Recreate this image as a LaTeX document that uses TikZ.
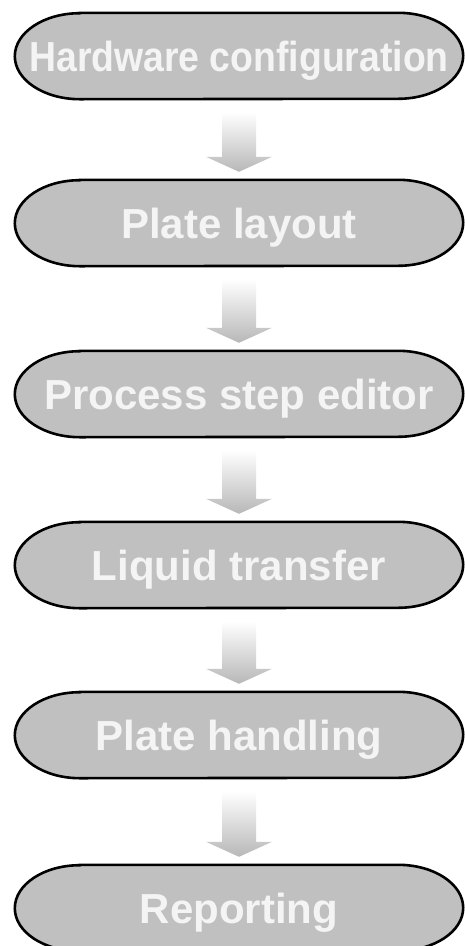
\documentclass[tikz,border=0pt]{standalone}
\usepackage{fontspec}
\setmainfont{Liberation Sans}
\usetikzlibrary{calc,backgrounds}
\definecolor{stagefill}{HTML}{C0C0C0}
\definecolor{stagetext}{HTML}{F4F4F4}
\newcommand\stageoutline[1]{%
  \draw[stageline] ([xshift=65pt]#1.north west) -- ([xshift=-65pt]#1.north east)
    arc[start angle=90,end angle=-90,x radius=65pt,y radius=43pt]
    -- ([xshift=65pt]#1.south west)
    arc[start angle=270,end angle=90,x radius=65pt,y radius=43pt] -- cycle;}
\newcommand\flowarrow[2]{%
  \shade[top color=white, bottom color=black!28]
    ($(#1.south)+(-17,13)$) -- ($(#1.south)+(17,13)$) -- ($(#2.north)+(17,-23)$)
    -- ($(#2.north)+(33,-23)$) -- ($(#2.north)+(0,-8)$) -- ($(#2.north)+(-33,-23)$)
    -- ($(#2.north)+(-17,-23)$) -- cycle;}
\begin{document}
\begin{tikzpicture}[x=1pt,y=-1pt,
  stage/.style={minimum width=448pt, minimum height=86pt, inner sep=0pt,
    text height=30pt, text depth=0pt, text=stagetext,
    font=\fontsize{42}{46}\selectfont\bfseries},
  stageline/.style={draw=black, line width=2.6pt, fill=stagefill}]
\useasboundingbox (0,0) rectangle (465,946);
\clip (0,0) rectangle (465,946);
\node[stage] (hw) at (239,56) {\scalebox{0.89}[1]{Hardware configuration}};
\node[stage] (pl) at (239,223) {Plate layout};
\node[stage] (ps) at (239,394) {Process step editor};
\node[stage] (lt) at (239,565) {Liquid transfer};
\node[stage] (ph) at (239,735) {Plate handling};
\node[stage] (rp) at (239,908) {Reporting};
\begin{scope}[on background layer]
  \stageoutline{hw}
  \stageoutline{pl}
  \stageoutline{ps}
  \stageoutline{lt}
  \stageoutline{ph}
  \stageoutline{rp}
  \flowarrow{hw}{pl}
  \flowarrow{pl}{ps}
  \flowarrow{ps}{lt}
  \flowarrow{lt}{ph}
  \flowarrow{ph}{rp}
\end{scope}
\end{tikzpicture}
\end{document}
